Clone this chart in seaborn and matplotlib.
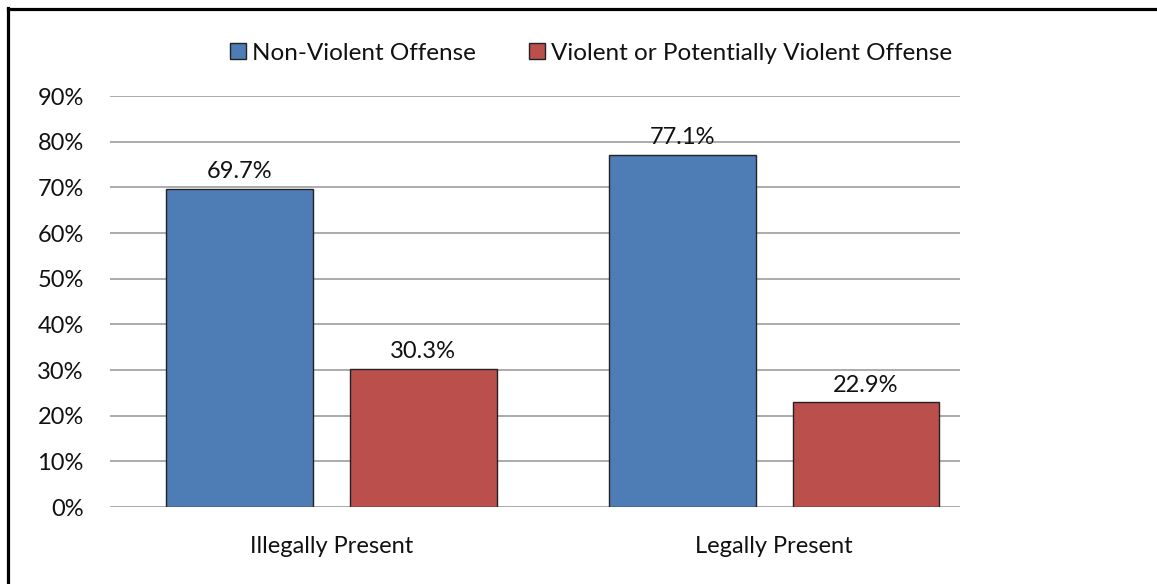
import pandas as pd
import matplotlib.pyplot as plt
from matplotlib.lines import Line2D
import seaborn as sns

# Data
status = ['Illegally Present', 'Legally Present']
offense_types = ['Non-Violent Offense', 'Violent or Potentially Violent Offense']
non_violent = [69.7, 77.1]
violent = [30.3, 22.9]

df = pd.DataFrame({
    'Status': status * 2,
    'Offense': [offense_types[0]] * 2 + [offense_types[1]] * 2,
    'Percent': non_violent + violent,
})

# Style
sns.set_style("white")
plt.rcParams['font.family'] = ['Lato', 'DejaVu Sans']

colors = ['#4E7CB4', '#BA4F4C']
fs = 17

fig = plt.figure(figsize=(11.57, 5.84), dpi=100)
ax = fig.add_axes([0.0951, 0.1318, 0.7347, 0.7038])

sns.barplot(data=df, x='Status', y='Percent', hue='Offense', palette=colors,
            saturation=1, width=0.83, gap=0.2, edgecolor='#222222', linewidth=1.0,
            errorbar=None, ax=ax, zorder=3)

# Value labels
for container in ax.containers:
    ax.bar_label(container, labels=[f'{v:.1f}%' for v in container.datavalues],
                 padding=5, fontsize=fs, color='#111111')

# Axes
ax.set_ylim(0, 90)
ax.set_xlim(-0.5, 1.42)
ax.set_yticks(range(0, 91, 10))
ax.set_yticklabels([f'{t}%' for t in range(0, 91, 10)])
ax.yaxis.grid(True, color='#ABABAB', linewidth=1.4, zorder=0)
ax.set_axisbelow(True)
for s in ax.spines.values():
    s.set_visible(False)
ax.tick_params(axis='y', length=0, pad=19, labelsize=fs, labelcolor='#111111')
ax.tick_params(axis='x', length=0, pad=21, labelsize=fs, labelcolor='#111111')
ax.set_xlabel('')
ax.set_ylabel('')

# Legend on top
ax.get_legend().remove()
handles = [plt.Rectangle((0, 0), 1, 1, facecolor=c, edgecolor='#222222', linewidth=1.0)
           for c in colors]
fig.legend(handles, offense_types, loc='center', bbox_to_anchor=(591 / 1157, 1 - 53 / 584),
           ncol=2, frameon=False, fontsize=17.5, handlelength=0.65, handleheight=0.65,
           handletextpad=0.25, columnspacing=2.2, labelcolor='#111111')

# Outer border (left and top visible)
fig.add_artist(Line2D([7.5 / 1157, 7.5 / 1157], [0, 1 - 7.5 / 584], transform=fig.transFigure,
                      color='black', linewidth=2.3, solid_capstyle='projecting'))
fig.add_artist(Line2D([7.5 / 1157, 1], [1 - 8.5 / 584, 1 - 8.5 / 584], transform=fig.transFigure,
                      color='black', linewidth=2.3, solid_capstyle='projecting'))

fig.savefig('out.png', dpi=100)
